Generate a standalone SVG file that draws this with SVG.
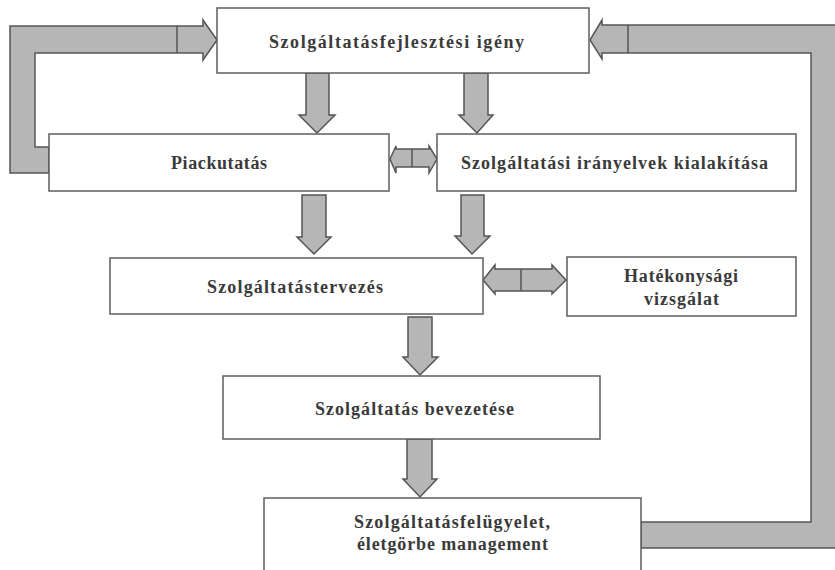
<svg xmlns="http://www.w3.org/2000/svg" width="835" height="570" viewBox="0 0 835 570">
  <style>
    .box { fill: #ffffff; stroke: #5e5e5e; stroke-width: 1.5; }
    .arrow { fill: #b6b6b6; stroke: #555555; stroke-width: 1.5; stroke-linejoin: miter; }
    .div { stroke: #555555; stroke-width: 1.5; fill: none; }
    .lbl { font-family: "Liberation Serif", "Times New Roman", serif; font-weight: bold; font-size: 18px; fill: #3a3a3a; }
  </style>
  <rect width="835" height="570" fill="#ffffff"/>

  <!-- connectors: block arrows -->
  <g id="connectors">
    <!-- feedback loop: Piackutatás back to the top box -->
    <polygon class="arrow" points="49,147 35,147 35,53 203,53 203,60 217,40 203,20 203,26 10,26 10,173 49,173"/>
    <line class="div" x1="177" y1="26" x2="177" y2="53"/>
    <!-- feedback loop: lifecycle management back to the top box -->
    <polygon class="arrow" points="641,522 811,522 811,53 602,53 602,59 590,40 602,20 602,25 840,25 840,548 641,548"/>
    <line class="div" x1="628" y1="25" x2="628" y2="53"/>

    <!-- downward arrows -->
    <polygon class="arrow" points="306,73 329,73 329,115 335,115 317,133 299,115 306,115"/>
    <polygon class="arrow" points="464,73 488,73 488,115 493,115 477,133 459,115 464,115"/>
    <polygon class="arrow" points="302,195 326,195 326,237 331,237 314,254 297,237 302,237"/>
    <polygon class="arrow" points="461,195 484,195 484,236 490,236 472,254 455,236 461,236"/>
    <polygon class="arrow" points="408,317 432,317 432,357 438,357 420,375 403,357 408,357"/>
    <polygon class="arrow" points="407,439 432,439 432,479 437,479 420,497 403,479 407,479"/>

    <!-- two-way arrow: Piackutatás / irányelvek -->
    <polygon class="arrow" points="390,159 396,146 396,149 429,149 429,146 437,159 429,173 429,167 396,167 396,173"/>
    <line class="div" x1="412" y1="149" x2="412" y2="167"/>
    <!-- two-way arrow: tervezés / hatékonysági vizsgálat -->
    <polygon class="arrow" points="483,280 495,265 495,269 552,269 552,265 566,280 552,294 552,291 495,291 495,294"/>
    <line class="div" x1="521" y1="269" x2="521" y2="291"/>
  </g>

  <g id="node-igeny">
    <rect class="box" x="217" y="8" width="372" height="65"/>
    <text class="lbl" x="269" y="48" textLength="255" lengthAdjust="spacing">Szolgáltatásfejlesztési igény</text>
  </g>

  <g id="node-piackutatas">
    <rect class="box" x="49" y="134" width="340" height="57"/>
    <text class="lbl" x="171" y="169" textLength="96" lengthAdjust="spacing">Piackutatás</text>
  </g>

  <g id="node-iranyelvek">
    <rect class="box" x="437" y="134" width="359" height="57"/>
    <text class="lbl" x="461" y="169" textLength="307" lengthAdjust="spacing">Szolgáltatási irányelvek kialakítása</text>
  </g>

  <g id="node-tervezes">
    <rect class="box" x="110" y="258" width="373" height="56"/>
    <text class="lbl" x="207" y="293" textLength="176" lengthAdjust="spacing">Szolgáltatástervezés</text>
  </g>

  <g id="node-hatekonysag">
    <rect class="box" x="567" y="257" width="229" height="59"/>
    <text class="lbl" x="624" y="282" textLength="114" lengthAdjust="spacing">Hatékonysági</text>
    <text class="lbl" x="644" y="305" textLength="75" lengthAdjust="spacing">vizsgálat</text>
  </g>

  <g id="node-bevezetes">
    <rect class="box" x="223" y="376" width="377" height="63"/>
    <text class="lbl" x="315" y="415" textLength="199" lengthAdjust="spacing">Szolgáltatás bevezetése</text>
  </g>

  <g id="node-felugyelet">
    <rect class="box" x="264" y="498" width="377" height="80"/>
    <text class="lbl" x="354" y="528" textLength="196" lengthAdjust="spacing">Szolgáltatásfelügyelet,</text>
    <text class="lbl" x="357" y="550" textLength="191" lengthAdjust="spacing">életgörbe management</text>
  </g>
</svg>
